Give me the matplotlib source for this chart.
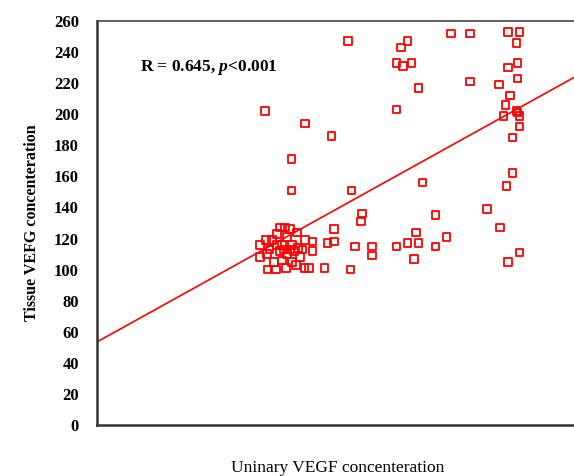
import numpy as np
import matplotlib
matplotlib.use("Agg")
import matplotlib.pyplot as plt

# urinary VEGF (arbitrary units, axis is unlabelled) vs tissue VEGF
urinary = [34.8, 43.2, 48.6, 40.3, 40.3, 52.8, 52.0, 63.1, 64.4, 62.1,
           63.5, 65.2, 66.7, 62.1, 73.4, 77.4, 85.3, 87.6, 87.0, 85.3,
           87.2, 87.2, 77.4, 83.4, 85.7, 84.7, 84.3, 87.2, 87.6, 87.0,
           87.6, 86.2, 86.2, 84.9, 80.9, 83.6, 87.6, 85.3, 67.5, 70.2,
           72.5, 70.2, 54.9, 54.7, 49.1, 49.1, 47.8, 53.5, 57.0, 57.0,
           62.1, 64.4, 66.2, 66.7, 65.8, 47.2, 52.6,
           33.8, 33.8, 39.0, 41.5, 43.2, 44.7, 44.7, 43.0, 44.0, 35.4,
           37.1, 36.7, 36.3, 37.3, 38.4, 39.4, 40.5, 37.9, 39.4, 40.9,
           35.8, 35.0, 38.4, 40.5, 41.7, 42.1, 40.0, 37.9, 35.2, 39.2,
           41.3, 42.6, 37.3, 38.8, 40.0]
tissue = [202, 194, 186, 171, 151, 151, 247, 243, 247, 233,
          231, 233, 217, 203, 252, 252, 253, 253, 246, 230,
          233, 223, 221, 219, 212, 206, 199, 201, 199, 202,
          192, 185, 162, 154, 139, 127, 111, 105, 156, 135,
          121, 115, 136, 131, 126, 118, 117, 115, 115, 109,
          115, 117, 124, 117, 107, 101, 100,
          116, 108, 127, 124, 119, 118, 112, 101, 101, 100,
          100, 105, 119, 123, 116, 121, 116, 112, 110, 112,
          113, 119, 106, 105, 114, 108, 126, 127, 110, 101,
          103, 113, 116, 113, 113]

# fitted line
fit_intercept = 53.5
fit_slope = 1.72

yticks = list(range(0, 261, 20))

serif = ['Liberation Serif', 'DejaVu Serif']
plt.rcParams['mathtext.fontset'] = 'custom'
plt.rcParams['mathtext.it'] = 'Liberation Serif:italic:bold'

fig = plt.figure(figsize=(5.74, 4.76), dpi=100)
ax = fig.add_axes([0.169, 0.107, 0.84, 0.849])

ax.scatter(urinary, tissue, marker='s', s=30, facecolors='none',
           edgecolors='#ff0000', linewidths=1.3, zorder=3)

xs = np.array([0, 100])
ax.plot(xs, fit_intercept + fit_slope * xs, color='#ff0000', lw=1.2, zorder=2)

ax.set_xlim(0, 100)
ax.set_ylim(0, 260)
ax.set_xticks([])
ax.set_yticks(yticks)
ax.set_yticklabels([str(t) for t in yticks], family=serif, fontweight='bold', fontsize=12)
ax.tick_params(axis='y', length=0, pad=13)

ax.spines['right'].set_visible(False)
ax.spines['left'].set_linewidth(1.8)
ax.spines['left'].set_color('#333333')
ax.spines['bottom'].set_linewidth(1.8)
ax.spines['bottom'].set_color('#333333')
ax.spines['top'].set_linewidth(1.2)
ax.spines['top'].set_color('#444444')

ax.text(9, 230, 'R = 0.645, $\\it{p}$<0.001', family=serif, fontweight='bold',
        fontsize=12.5, va='center')

ax.set_ylabel('Tissue VEFG concenteration', family=serif, fontweight='bold',
              fontsize=11.5, labelpad=10)
ax.set_xlabel('Uninary VEGF concenteration', family=serif, fontsize=12.5,
              labelpad=25)

fig.savefig('out.png', dpi=100)
